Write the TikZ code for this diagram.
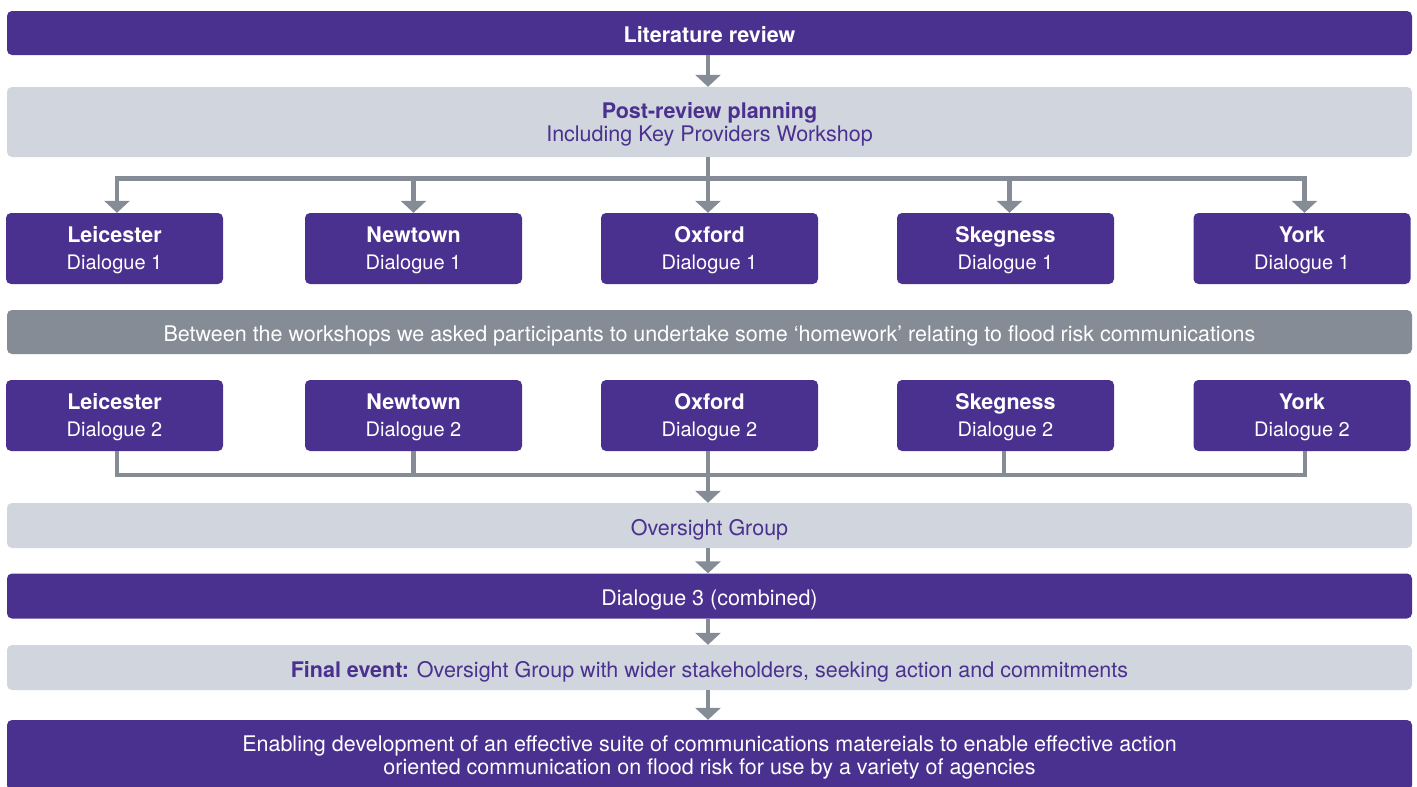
\documentclass[tikz,border=0pt]{standalone}
\usepackage{fontspec}
\setmainfont{TeX Gyre Heros}
\usetikzlibrary{arrows.meta}
\definecolor{fpurple}{HTML}{4A3190}
\definecolor{flight}{HTML}{D1D5DD}
\definecolor{fgray}{HTML}{858C96}
\newcommand{\dlg}[1]{{\fontsize{20}{27}\selectfont Dialogue #1}}
\begin{document}
\begin{tikzpicture}[x=1pt,y=-1pt,
 box/.style={rectangle, rounded corners=5pt, inner sep=0pt, align=center,
   text height=20pt, text depth=0.5pt, font=\fontsize{21.5}{23.4}\selectfont},
 pbox/.style={box, fill=fpurple, text=white},
 lbox/.style={box, fill=flight, text=fpurple},
 gbox/.style={box, fill=fgray, text=white},
 twoline/.style={text height=39.5pt, text depth=0.5pt},
 city/.style={pbox, minimum width=217pt, minimum height=71pt, font=\fontsize{21.5}{27}\selectfont, text height=42pt, text depth=0.5pt},
 wide/.style={minimum width=1405pt},
 conn/.style={draw=fgray, line width=4.5pt},
 arr/.style={conn, -{Triangle[width=25pt,length=12pt]}},
]
\useasboundingbox (0,0) rectangle (1417,787);

\node[pbox, wide, minimum height=44pt] (lit) at (709.5,33) {\textbf{Literature review}};
\node[lbox, wide, twoline, minimum height=70pt] (plan) at (709.5,122) {\textbf{Post-review planning}\\Including Key Providers Workshop};

\node[city] (l1) at (114.5,248.5) {\textbf{Leicester}\\\dlg{1}};
\node[city] (n1) at (413.5,248.5) {\textbf{Newtown}\\\dlg{1}};
\node[city] (o1) at (709.5,248.5) {\textbf{Oxford}\\\dlg{1}};
\node[city] (s1) at (1005.5,248.5) {\textbf{Skegness}\\\dlg{1}};
\node[city] (y1) at (1302,248.5) {\textbf{York}\\\dlg{1}};

\node[gbox, wide, minimum height=44pt] (hw) at (709.5,332) {Between the workshops we asked participants to undertake some ‘homework’ relating to flood risk communications};

\node[city] (l2) at (114.5,415.5) {\textbf{Leicester}\\\dlg{2}};
\node[city] (n2) at (413.5,415.5) {\textbf{Newtown}\\\dlg{2}};
\node[city] (o2) at (709.5,415.5) {\textbf{Oxford}\\\dlg{2}};
\node[city] (s2) at (1005.5,415.5) {\textbf{Skegness}\\\dlg{2}};
\node[city] (y2) at (1302,415.5) {\textbf{York}\\\dlg{2}};

\node[lbox, wide, minimum height=45pt] (over) at (709.5,525.5) {Oversight Group};
\node[pbox, wide, minimum height=45pt] (d3) at (709.5,596) {Dialogue 3 (combined)};
\node[lbox, wide, minimum height=45pt] (fin) at (709.5,667.5) {\textbf{Final event:} Oversight Group with wider stakeholders, seeking action and commitments};
\node[pbox, wide, twoline, minimum height=70.5pt] (en) at (709.5,755.25) {Enabling development of an effective suite of communications matereials to enable effective action\\oriented communication on flood risk for use by a variety of agencies};

\draw[arr] ([xshift=-1.5pt]lit.south) -- ([xshift=-1.5pt]plan.north);
\path ([xshift=-1.5pt]plan.south) ++(0,21.5) coordinate (br);
\draw[arr] ([xshift=-1.5pt]plan.south) -- (br) -| ([xshift=2.5pt]l1.north);
\draw[arr] ([xshift=-1.5pt]plan.south) -- (br) -| (n1.north);
\draw[arr] ([xshift=-1.5pt]plan.south) -- (br) -| ([xshift=4pt]s1.north);
\draw[arr] ([xshift=-1.5pt]plan.south) -- (br) -| ([xshift=2.5pt]y1.north);
\draw[arr] ([xshift=-1.5pt]plan.south) -- ([xshift=-1.5pt]o1.north);

\path ([xshift=-1.5pt]over.north) ++(0,-28) coordinate (mg);
\draw[conn] ([xshift=2.5pt]l2.south) |- (mg);
\draw[conn] (n2.south) |- (mg);
\draw[conn] ([xshift=-1.5pt]s2.south) |- (mg);
\draw[conn] ([xshift=3pt]y2.south) |- (mg);
\draw[arr] ([xshift=-1.5pt]o2.south) -- ([xshift=-1.5pt]over.north);

\draw[arr] ([xshift=-1.5pt]over.south) -- ([xshift=-1.5pt]d3.north);
\draw[arr] ([xshift=-1.5pt]d3.south) -- ([xshift=-1.5pt]fin.north);
\draw[arr] ([xshift=-1.5pt]fin.south) -- ([xshift=-1.5pt]en.north);
\end{tikzpicture}
\end{document}
